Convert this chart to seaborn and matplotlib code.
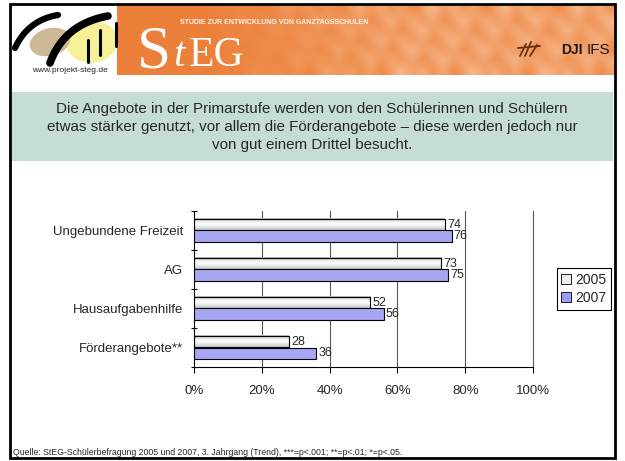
import numpy as np
import pandas as pd
import matplotlib
matplotlib.use("Agg")
import matplotlib.pyplot as plt
from matplotlib.patches import Rectangle, Patch, Ellipse
import seaborn as sns

# chart data
categories = ["Ungebundene Freizeit", "AG", "Hausaufgabenhilfe", "Förderangebote**"]
years = ["2005", "2007"]
values_2005 = [74, 73, 52, 28]
values_2007 = [76, 75, 56, 36]
x_ticks = [0, 20, 40, 60, 80, 100]

headline = ("Die Angebote in der Primarstufe werden von den Schülerinnen und Schülern\n"
            "etwas stärker genutzt, vor allem die Förderangebote – diese werden jedoch nur\n"
            "von gut einem Drittel besucht.")
source = ("Quelle: StEG-Schülerbefragung 2005 und 2007, 3. Jahrgang (Trend), "
          "***=p<.001; **=p<.01; *=p<.05.")

df = pd.DataFrame({
    "Angebot": categories * 2,
    "Jahr": [years[0]] * 4 + [years[1]] * 4,
    "Anteil": values_2005 + values_2007,
})

sns.set_theme(style="white")
plt.rcParams["font.family"] = ["Liberation Sans", "DejaVu Sans"]

W, H = 625, 461
fig = plt.figure(figsize=(W / 100, H / 100), dpi=100)
fig.patch.set_facecolor("white")

# slide decoration in pixel coordinates
bg = fig.add_axes([0, 0, 1, 1])
bg.set_xlim(0, W)
bg.set_ylim(H, 0)
bg.axis("off")

# orange banner with a soft square pattern
ny, nx = 7, 48
ii, jj = np.mgrid[0:ny, 0:nx]
light = ((ii * 5 + jj * 3) % 7) / 6.0
light *= np.clip((jj - 8) / 20.0, 0, 1)
base = np.array([236, 128, 58]) / 255.0
pale = np.array([252, 212, 180]) / 255.0
banner = base + (pale - base) * light[..., None] * 0.8
bg.imshow(banner, extent=(117, 615, 75, 5), interpolation="bicubic", aspect="auto", zorder=1)


def curve(p0, p1, p2, lw):
    t = np.linspace(0, 1, 40)[:, None]
    pts = (1 - t) ** 2 * np.array(p0) + 2 * (1 - t) * t * np.array(p1) + t ** 2 * np.array(p2)
    bg.plot(pts[:, 0], pts[:, 1], color="black", lw=lw, solid_capstyle="round", zorder=3)


# left logo
bg.add_patch(Ellipse((92, 42), 50, 40, angle=-8, color="#f6f196", zorder=2))
bg.add_patch(Ellipse((50, 42), 40, 26, angle=-15, color="#cdb995", zorder=2))
curve((15, 48), (28, 20), (58, 15), 4.5)
curve((50, 63), (64, 24), (108, 16), 5.5)
for x0, y0, y1 in [(88, 40, 62), (100, 30, 55), (116, 23, 46)]:
    bg.plot([x0, x0], [y0, y1], color="black", lw=2.2, zorder=3)
bg.text(70, 70, "www.projekt-steg.de", fontsize=6, ha="center", va="center", zorder=4)

# banner texts
bg.text(137, 68, "S", fontsize=44, color="white", family="Liberation Serif", va="baseline", zorder=4)
bg.text(173, 66, "t", fontsize=30, color="white", family="Liberation Serif", style="italic",
        va="baseline", zorder=4)
bg.text(189, 66, "EG", fontsize=30, color="white", family="Liberation Serif", va="baseline", zorder=4)
bg.text(180, 22, "STUDIE ZUR ENTWICKLUNG VON GANZTAGSSCHULEN", fontsize=5, color="#fff4ea",
        weight="bold", va="center", zorder=4)
bg.text(583, 50, "DJI", fontsize=10, weight="bold", color="#1a1a1a", ha="right", va="center", zorder=4)
bg.text(587, 50, "IFS", fontsize=11, color="#1a1a1a", ha="left", va="center", zorder=4)
for xa, ya, xb, yb in [(520, 56, 526, 44), (525, 56, 531, 42), (530, 56, 537, 45), (518, 48, 540, 46)]:
    bg.plot([xa, xb], [ya, yb], color="#6a3010", lw=1.3, zorder=4)

# green headline box
bg.add_patch(Rectangle((12, 92), 601, 69, facecolor="#c6ddd4", edgecolor="none", zorder=1))
bg.text(312, 127, headline, fontsize=10.9, ha="center", va="center", linespacing=1.4, zorder=4)

# frame
bg.add_patch(Rectangle((10, 4), 605, 454, fill=False, edgecolor="black", lw=2, zorder=5))
bg.text(13, 452, source, fontsize=6.3, ha="left", va="center", zorder=4)

# bar chart
ax = fig.add_axes([194 / W, 1 - 367 / H, (533 - 194) / W, (367 - 211) / H])
sns.barplot(data=df, y="Angebot", x="Anteil", hue="Jahr", orient="h",
            palette={"2005": "#eeeeee", "2007": "#9999ff"}, edgecolor="black",
            linewidth=0.8, width=0.6, gap=0, legend=False, ax=ax, zorder=3)

# vertical gradient in the 2005 bars
grad = np.array([0.72, 0.95, 1.0, 0.93, 0.8])[:, None]
n_cat = len(categories)
for i, bar in enumerate(ax.patches[:n_cat]):
    x0, y0 = bar.get_x(), bar.get_y()
    w, h = bar.get_width(), bar.get_height()
    ax.imshow(grad, cmap="gray", vmin=0, vmax=1, extent=(x0, x0 + w, y0 + h, y0),
              aspect="auto", interpolation="bicubic", zorder=2.5)
    bar.set_facecolor("none")

for cont in ax.containers:
    ax.bar_label(cont, fmt="%d", padding=1.5, fontsize=9)

ax.set_xlim(0, 100)
ax.set_ylim(n_cat - 0.5, -0.5)
ax.set_xticks(x_ticks)
ax.set_xticklabels([f"{t}%" for t in x_ticks], fontsize=9.5)
ax.tick_params(axis="x", length=4, width=0.8, color="black", direction="out", pad=9, bottom=True)
ax.tick_params(axis="y", which="major", length=0, pad=8, labelsize=9.5)
ax.set_yticks(np.arange(-0.5, n_cat, 1.0), minor=True)
ax.tick_params(axis="y", which="minor", length=4, width=0.8, color="black", direction="inout", left=True)
for g in x_ticks[1:]:
    ax.axvline(g, color="#555555", lw=0.8, zorder=1, clip_on=False)
for s in ["top", "right"]:
    ax.spines[s].set_visible(False)
for s in ["left", "bottom"]:
    ax.spines[s].set_color("black")
    ax.spines[s].set_linewidth(0.8)
ax.set_xlabel("")
ax.set_ylabel("")
ax.set_facecolor("none")

handles = [Patch(facecolor="#eeeeee", edgecolor="black", lw=0.6),
           Patch(facecolor="#9999ff", edgecolor="black", lw=0.6)]
leg = fig.legend(handles, years, loc="center", bbox_to_anchor=(584 / W, 1 - 289 / H),
                 fontsize=10, handlelength=0.7, handleheight=0.7, handletextpad=0.3,
                 borderpad=0.35, labelspacing=0.3, fancybox=False, framealpha=1)
leg.get_frame().set_edgecolor("black")
leg.get_frame().set_linewidth(0.8)

fig.savefig("out.png", dpi=100)
